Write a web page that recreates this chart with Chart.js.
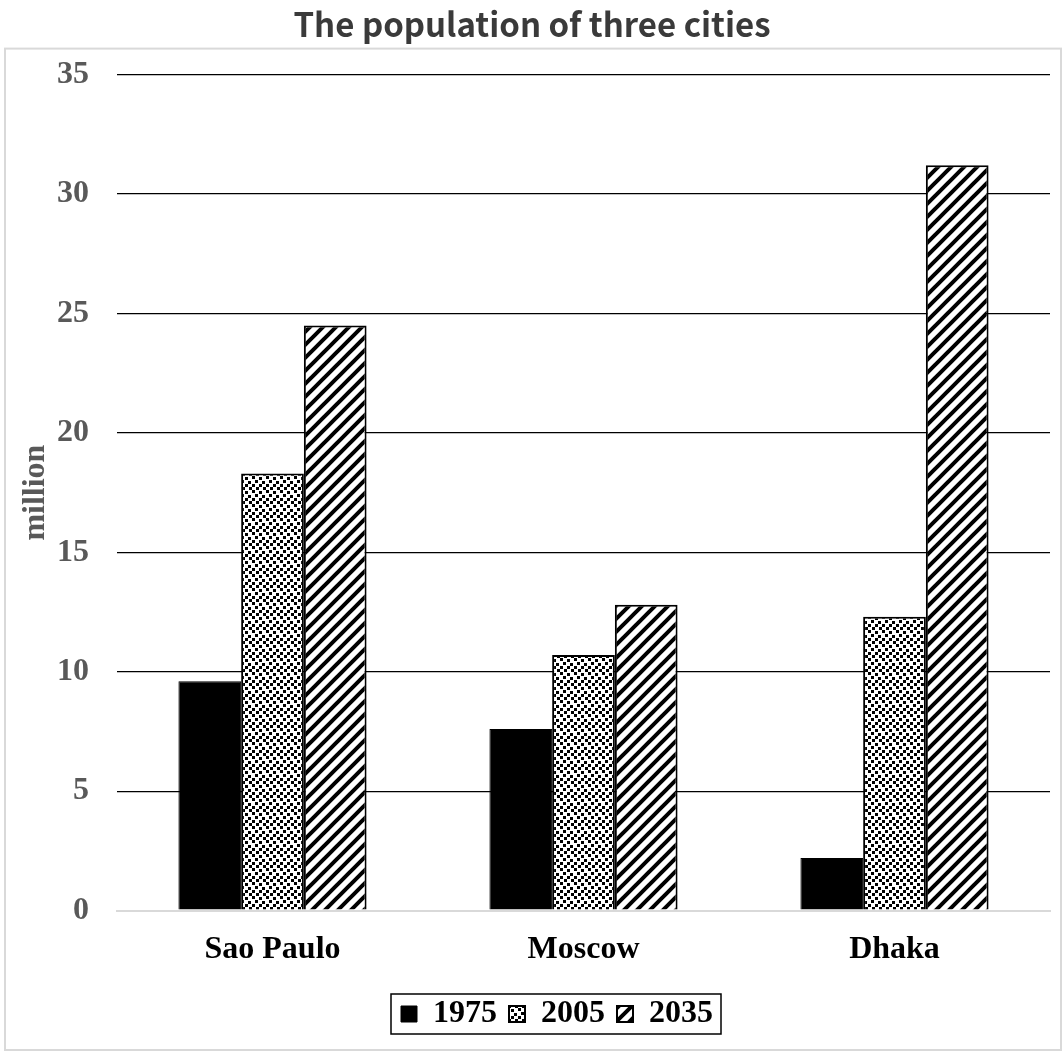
<!DOCTYPE html>
<html>
<head>
<meta charset="utf-8">
<script src="https://cdn.jsdelivr.net/npm/chart.js@4/dist/chart.umd.min.js"></script>
<style>
  html, body { margin: 0; padding: 0; background: #ffffff; }
  #wrap { width: 1064px; height: 1054px; }
</style>
</head>
<body>
<div id="wrap"><canvas id="c" width="1064" height="1054"></canvas></div>
<script>
// Population in millions, by city and year
const cities = ['Sao Paulo', 'Moscow', 'Dhaka'];
const years = ['1975', '2005', '2035'];
const pop1975 = [9.6, 7.6, 2.2];
const pop2005 = [18.3, 10.7, 12.3];
const pop2035 = [24.5, 12.8, 31.2];
const yTickValues = [0, 5, 10, 15, 20, 25, 30, 35];

const canvas = document.getElementById('c');
const ctx = canvas.getContext('2d');

// Black-and-white fill patterns for the hatched series
function dotPattern() {
  const s = 14;
  const t = document.createElement('canvas');
  t.width = s; t.height = s;
  const g = t.getContext('2d');
  g.fillStyle = '#ffffff';
  g.fillRect(0, 0, s, s);
  g.fillStyle = '#000000';
  [[0, 0], [7, 1], [3, 4], [10, 5], [0, 8], [7, 8], [4, 11], [11, 11]]
    .forEach(([x, y]) => g.fillRect(x, y, 3, 3));
  return ctx.createPattern(t, 'repeat');
}
function stripePattern() {
  const s = 13;
  const t = document.createElement('canvas');
  t.width = s; t.height = s;
  const g = t.getContext('2d');
  g.fillStyle = '#ffffff';
  g.fillRect(0, 0, s, s);
  g.strokeStyle = '#000000';
  g.lineWidth = 4;
  g.beginPath();
  // "/" lines x + y = k, repeated so the tile wraps seamlessly
  for (const k of [0, s, 2 * s]) { g.moveTo(-3, k + 3); g.lineTo(k + 3, -3); }
  g.stroke();
  return ctx.createPattern(t, 'repeat');
}

const serif = "'Liberation Serif', 'Times New Roman', serif";

// Light grey frame around the plot block, a box around the legend,
// and a nudge that centres the legend under the plot area
const framePlugin = {
  id: 'frames',
  afterLayout(chart) {
    if (chart.legend) chart.legend.left += 50;
  },
  beforeDraw(chart) {
    const c = chart.ctx;
    c.save();
    c.strokeStyle = '#d9d9d9';
    c.lineWidth = 2;
    const top = chart.titleBlock.bottom - 26;
    c.strokeRect(5, top, chart.width - 8, chart.height - top - 4);
    c.restore();
  },
  afterDraw(chart) {
    const lg = chart.legend;
    if (!lg || !lg.legendHitBoxes || !lg.legendHitBoxes.length) return;
    const boxes = lg.legendHitBoxes;
    const left = Math.min(...boxes.map(b => b.left));
    const right = Math.max(...boxes.map(b => b.left + b.width));
    const top = Math.min(...boxes.map(b => b.top));
    const bottom = Math.max(...boxes.map(b => b.top + b.height));
    const c = chart.ctx;
    c.save();
    c.strokeStyle = '#000000';
    c.lineWidth = 1.5;
    c.strokeRect(left - 10, top - 4, right - left + 18, bottom - top + 8);
    c.restore();
  }
};

new Chart(ctx, {
  type: 'bar',
  data: {
    labels: cities,
    datasets: [
      { label: years[0], data: pop1975, backgroundColor: '#000000', borderColor: '#000000', borderWidth: 1 },
      { label: years[1], data: pop2005, backgroundColor: dotPattern(), borderColor: '#000000', borderWidth: 2 },
      { label: years[2], data: pop2035, backgroundColor: stripePattern(), borderColor: '#000000', borderWidth: 2 }
    ]
  },
  options: {
    responsive: false,
    animation: false,
    devicePixelRatio: 1,
    layout: { padding: { left: 14, right: 14, top: 0, bottom: 14 } },
    datasets: { bar: { barPercentage: 1.0, categoryPercentage: 0.605 } },
    scales: {
      x: {
        afterFit(scale) { scale.height += 5; },
        grid: { display: false },
        border: { display: true, color: '#d9d9d9', width: 2 },
        ticks: { color: '#000000', font: { family: serif, size: 32, weight: 'bold' }, padding: 12 }
      },
      y: {
        min: 0,
        max: 35,
        afterBuildTicks(scale) { scale.ticks = yTickValues.map(v => ({ value: v })); },
        afterFit(scale) { scale.width = 103; },
        grid: {
          drawTicks: false,
          color: c => (c.tick && c.tick.value === 0 ? '#d9d9d9' : '#000000'),
          lineWidth: c => (c.tick && c.tick.value === 0 ? 2 : 1.2)
        },
        border: { display: false },
        ticks: { color: '#595959', font: { family: serif, size: 32, weight: 'bold' }, padding: 28 },
        title: {
          display: true,
          text: 'million',
          color: '#595959',
          font: { family: serif, size: 32, weight: 'bold' },
          padding: { top: 3, bottom: 0 }
        }
      }
    },
    plugins: {
      title: {
        display: true,
        text: 'The population of three cities',
        color: '#3a3a3a',
        font: { family: "'Noto Sans CJK JP', 'Noto Sans', sans-serif", size: 33, weight: 'bold' },
        padding: { top: 5, bottom: 30 }
      },
      legend: {
        position: 'bottom',
        labels: {
          color: '#000000',
          font: { family: serif, size: 32, weight: 'bold' },
          boxWidth: 16,
          boxHeight: 16,
          padding: 12
        }
      },
      tooltip: { enabled: false }
    }
  },
  plugins: [framePlugin]
});
</script>
</body>
</html>
